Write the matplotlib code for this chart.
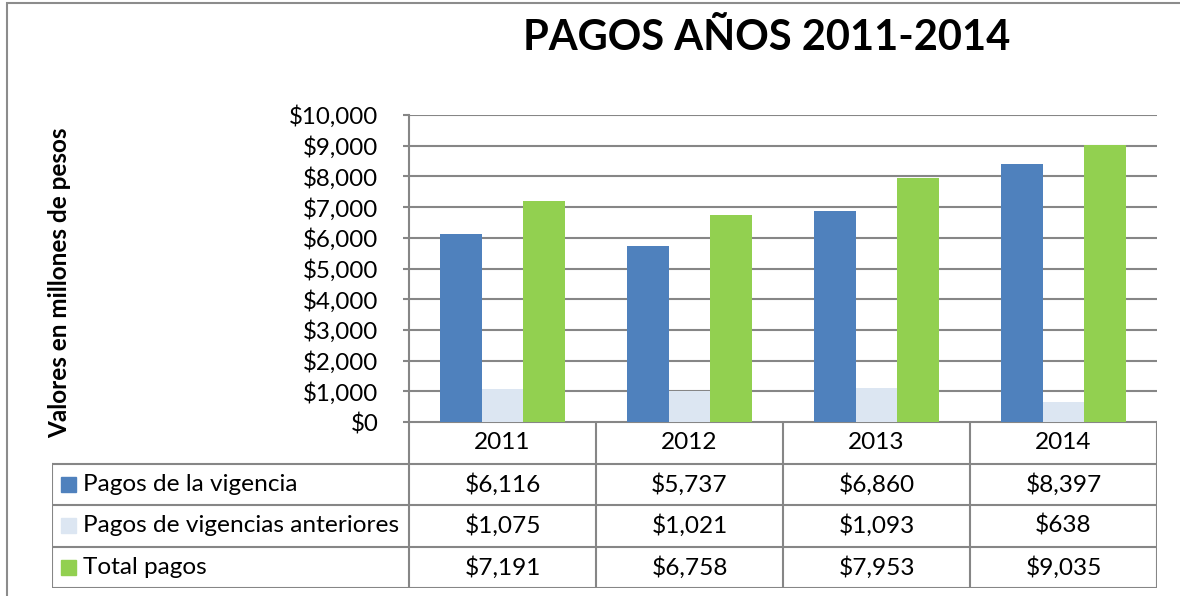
import numpy as np
import matplotlib.pyplot as plt
from matplotlib.patches import Rectangle

years = ["2011", "2012", "2013", "2014"]
series_names = ["Pagos de la vigencia", "Pagos de vigencias anteriores", "Total pagos"]
vigencia = [6116, 5737, 6860, 8397]
anteriores = [1075, 1021, 1093, 638]
total = [7191, 6758, 7953, 9035]
colors = ["#4F81BD", "#DCE6F2", "#92D050"]

W, H = 1180, 596
plt.rcParams['font.family'] = ['Lato', 'DejaVu Sans']

fig = plt.figure(figsize=(W / 100, H / 100), dpi=100)

def fx(px):
    return px / W

def fy(py):
    return 1 - py / H

grid_col = "#868686"

# layout in pixels
plot_l, plot_r, plot_t, plot_b = 409, 1157, 115, 422
tab_l, tab_b = 52, 588

# outer frame
fig.add_artist(Rectangle((fx(7), fy(640)), fx(1200), fy(3) - fy(640), transform=fig.transFigure,
                         fill=False, edgecolor="#8C8C8C", linewidth=1.5))

# bar axes
ax = fig.add_axes([fx(plot_l), fy(plot_b), fx(plot_r) - fx(plot_l), fy(plot_t) - fy(plot_b)])
x = np.arange(len(years))
bw = 0.222
data = [vigencia, anteriores, total]
for i, vals in enumerate(data):
    ax.bar(x + (i - 1) * bw, vals, width=bw, color=colors[i], zorder=3)
ax.set_xlim(-0.5, len(years) - 0.5)
ax.set_ylim(0, 10000)
ax.set_yticks(np.arange(0, 10001, 1000))
ax.set_yticklabels(["${:,}".format(v) for v in range(0, 10001, 1000)])
ax.yaxis.grid(True, color=grid_col, linewidth=1.5, zorder=0)
ax.set_xticks([])
for s in ["top", "right", "bottom"]:
    ax.spines[s].set_visible(False)
ax.spines["left"].set_color(grid_col)
ax.spines["left"].set_linewidth(1.5)
ax.tick_params(axis="y", length=4, color=grid_col, width=1.5, pad=18, labelsize=17.4)
ax.patch.set_alpha(0)

# data table axes
tax = fig.add_axes([fx(tab_l), fy(tab_b), fx(plot_r) - fx(tab_l), fy(plot_b) - fy(tab_b)])
unit = (plot_r - plot_l) / len(years)
left_units = -0.5 - (plot_l - tab_l) / unit
tax.set_xlim(left_units, len(years) - 0.5)
tax.set_ylim(0, 4)
tax.axis("off")
lk = dict(color=grid_col, linewidth=1.5, solid_capstyle="projecting")
# horizontal lines
tax.plot([-0.5, len(years) - 0.5], [4, 4], **lk)
for yv in [0, 1, 2, 3]:
    tax.plot([left_units, len(years) - 0.5], [yv, yv], **lk)
# vertical lines
for xv in np.arange(-0.5, len(years), 1.0):
    tax.plot([xv, xv], [0, 4], **lk)
tax.plot([left_units, left_units], [0, 3], **lk)

fs = 17.6
for j, yr in enumerate(years):
    tax.text(j, 3.5, yr, ha="center", va="center", fontsize=fs)
for i, (name, vals) in enumerate(zip(series_names, data)):
    yc = 2.5 - i
    for j, v in enumerate(vals):
        tax.text(j, yc, "${:,}".format(v), ha="center", va="center", fontsize=fs)
    key_w = 15 / unit
    tax.add_patch(Rectangle((left_units + 9 / unit, yc - 0.18), key_w, 0.36, color=colors[i]))
    tax.text(left_units + 31 / unit, yc, name, ha="left", va="center", fontsize=fs)

fig.text(fx(767), fy(38), "PAGOS AÑOS 2011-2014", ha="center", va="center",
         fontsize=30, fontweight="bold")
fig.text(fx(60), fy(283), "Valores en millones de pesos", ha="center", va="center",
         rotation=90, fontsize=17.5, fontweight="bold")

fig.savefig("out.png", dpi=100)
